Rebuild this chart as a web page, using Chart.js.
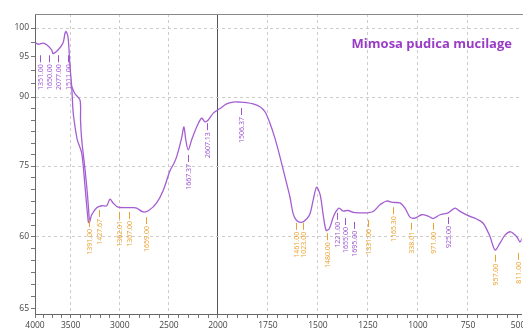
<!DOCTYPE html>
<html lang="en">
<head>
<meta charset="UTF-8">
<title>Mimosa pudica mucilage FTIR</title>
<script src="https://cdn.jsdelivr.net/npm/chart.js"></script>
<style>
  html, body { margin: 0; padding: 0; background: #fff; }
  #wrap { width: 523px; height: 335px; }
</style>
</head>
<body>
<div id="wrap"><canvas id="ftir"></canvas></div>
<script>
// spectrum: wavenumber (cm-1) and transmittance
const wavenumbers = [4000, 3954, 3884, 3836, 3766, 3748, 3678, 3608, 3580, 3566, 3538, 3510, 3490,
  3477, 3466, 3433, 3388, 3354, 3321, 3310, 3286, 3235, 3184, 3134, 3100, 3069, 3018, 2930, 2866,
  2828, 2764, 2705, 2625, 2557, 2489, 2448, 2418, 2370, 2347, 2328, 2303, 2268, 2217, 2166, 2133,
  2099, 2048, 1990, 1957, 1924, 1890, 1857, 1824, 1790, 1765, 1740, 1715, 1690, 1665, 1640, 1624,
  1607, 1582, 1557, 1540, 1524, 1507, 1489, 1473, 1459, 1443, 1420, 1395, 1375, 1350, 1324, 1290,
  1257, 1224, 1190, 1157, 1124, 1090, 1065, 1040, 1015, 982, 949, 924, 890, 849, 815, 790, 749,
  707, 674, 640, 615, 590, 565, 537, 507, 490, 478];
const transmittance = [97.5, 97.2, 97.4, 97.1, 96.2, 95.6, 96.2, 97.4, 99.1, 99.4, 98.5, 93.8, 91.3,
  87.2, 85.0, 80.7, 77.8, 70.6, 63.2, 63.0, 64.7, 66.2, 66.6, 66.6, 68.0, 67.2, 66.3, 66.2, 66.2,
  66.1, 65.3, 65.6, 67.2, 69.9, 74.0, 75.6, 77.2, 81.1, 83.5, 80.7, 78.5, 80.7, 83.5, 85.4, 84.6,
  85.0, 86.5, 87.5, 88.5, 88.9, 88.9, 88.8, 88.5, 87.9, 86.8, 84.3, 81.0, 77.0, 72.7, 68.4, 64.9,
  63.5, 63.1, 63.8, 64.9, 67.8, 70.5, 68.9, 64.4, 61.4, 61.8, 64.6, 66.1, 65.5, 65.6, 65.2, 65.1,
  65.1, 65.4, 66.8, 67.6, 67.3, 67.2, 66.1, 64.2, 64.0, 64.7, 64.4, 63.9, 64.7, 65.1, 66.1, 65.4, 64.5,
  63.8, 62.9, 60.1, 57.3, 58.7, 60.4, 61.1, 60.1, 59.0, 59.8];

// second stroke of the O-H band (the curve is drawn twice there)
const bandWavenumbers = [3490, 3456, 3405, 3400, 3388, 3354, 3331, 3313, 3310];
const bandTransmittance = [91.3, 90.4, 89.3, 85.0, 80.7, 74.2, 69.3, 64.3, 63.0];

// axis ticks
const xMajorTicks = [4000, 3500, 3000, 2500, 2000, 1750, 1500, 1250, 1000, 750, 500];
const yTickValues = [100, 95, 90, 75, 60, 45];
const yTickLabels = ['100', '95', '90', '75', '60', '65'];
const yMinorTicks = [97.5, 93.33, 91.67, 87.5, 85, 82.5, 80, 77.5, 72.5, 70, 67.5, 65, 62.5,
  57.5, 55, 52.5, 50, 47.5];

// peak labels: wavenumber, level where the leader starts, text, colour
const peakWavenumbers = [3930, 3804, 3678, 3538, 3310, 3211, 3008, 2906, 2736, 2303, 2116, 1885,
  1610, 1573, 1456, 1403, 1365, 1318, 1248, 1126, 1035, 926, 848, 615, 498];
const peakLevels = [95.3, 95.3, 95.3, 95.3, 63.6, 65.7, 65.3, 65.3, 64.2, 77.4, 84.3, 87.6,
  63.0, 63.0, 60.8, 65.1, 64.0, 63.2, 63.6, 66.3, 63.0, 63.0, 64.2, 56.3, 56.7];
const peakTexts = ['1351.00', '1650.00', '2077.00', '1511.00', '1391.00', '1427.67', '1362.01',
  '1307.00', '1659.00', '1667.37', '2607.13', '1506.37', '1461.00', '1023.00', '1480.00',
  '1221.00', '1655.00', '1695.00', '1331.00', '1165.30', '338.01', '971.00', '925.00', '957.00',
  '811.00'];
const peakColours = ['p', 'p', 'p', 'p', 'o', 'o', 'o', 'o', 'o', 'p', 'p', 'p', 'o', 'o', 'o',
  'p', 'p', 'p', 'o', 'o', 'o', 'o', 'p', 'o', 'o'];

const PURPLE = '#a45ed2';
const LABEL_PURPLE = '#9c55cf';
const ORANGE = '#eba12f';

// scale with piecewise linear sections (x is compressed above 2000, y labels are uneven)
class BrokenScale extends Chart.Scale {
  determineDataLimits() {
    const vals = this.options.stops.map(s => s[0]);
    this.min = Math.min(...vals);
    this.max = Math.max(...vals);
  }
  buildTicks() {
    return this.options.tickValues.map(v => ({ value: v }));
  }
  getLabelForValue(v) { return String(v); }
  toDecimal(v) {
    const s = this.options.stops;
    const dir = Math.sign(s[1][0] - s[0][0]);
    let i = 0;
    while (i < s.length - 2 && (v - s[i + 1][0]) * dir > 0) i++;
    const a = s[i], b = s[i + 1];
    return a[1] + (v - a[0]) / (b[0] - a[0]) * (b[1] - a[1]);
  }
  getPixelForValue(v) { return this.getPixelForDecimal(this.toDecimal(v)); }
  getValueForPixel(px) {
    const d = this.getDecimalForPixel(px);
    const s = this.options.stops;
    let i = 0;
    while (i < s.length - 2 && d > s[i + 1][1]) i++;
    const a = s[i], b = s[i + 1];
    return a[0] + (d - a[1]) / (b[1] - a[1]) * (b[0] - a[0]);
  }
}
BrokenScale.id = 'broken';
BrokenScale.defaults = {};
Chart.register(BrokenScale);

// minor x ticks
const xMinorTicks = [];
for (let w = 3875; w > 3500; w -= 125) xMinorTicks.push(w);
for (let w = 3400; w > 2000; w -= 100) if (w % 500) xMinorTicks.push(w);
for (let w = 1950; w > 500; w -= 50) if (w % 250) xMinorTicks.push(w);

const isXMajor = v => xMajorTicks.includes(v);
const xGridColour = ctx => {
  const v = ctx.tick && ctx.tick.value;
  if (v === 2000) return '#555';
  if (!isXMajor(v) || v === 4000 || v === 500) return 'rgba(0,0,0,0)';
  return '#cccccc';
};
const yGridColour = ctx => {
  const v = ctx.tick && ctx.tick.value;
  return [100, 90, 75, 60].includes(v) ? '#cccccc' : 'rgba(0,0,0,0)';
};

const extras = {
  id: 'extras',
  afterDatasetsDraw(chart) {
    const { ctx, chartArea: a, scales: { x, y } } = chart;
    ctx.save();
    // frame top line
    ctx.strokeStyle = '#888';
    ctx.lineWidth = 1;
    ctx.beginPath();
    ctx.moveTo(a.left, a.top + 0.5);
    ctx.lineTo(chart.width, a.top + 0.5);
    ctx.stroke();

    // peak labels
    ctx.font = '7px "Open Sans"';
    for (let i = 0; i < peakWavenumbers.length; i++) {
      const col = peakColours[i] === 'p' ? LABEL_PURPLE : ORANGE;
      const px = Math.round(x.getPixelForValue(peakWavenumbers[i])) + 0.5;
      const py = y.getPixelForValue(peakLevels[i]);
      ctx.strokeStyle = col;
      ctx.fillStyle = col;
      ctx.beginPath();
      ctx.moveTo(px, py);
      ctx.lineTo(px, py + 7);
      ctx.stroke();
      ctx.save();
      ctx.translate(px, py + 9);
      ctx.rotate(-Math.PI / 2);
      ctx.textAlign = 'right';
      ctx.textBaseline = 'middle';
      ctx.fillText(peakTexts[i], 0, 0);
      ctx.restore();
    }

    // sample name
    ctx.font = 'bold 13px "Open Sans"';
    ctx.fillStyle = '#9a3dc6';
    ctx.textAlign = 'right';
    ctx.textBaseline = 'middle';
    ctx.fillText('Mimosa pudica mucilage', 512, 44);
    ctx.restore();
  }
};

new Chart(document.getElementById('ftir'), {
  type: 'line',
  data: {
    datasets: [{
      data: wavenumbers.map((w, i) => ({ x: w, y: transmittance[i] })),
      borderColor: PURPLE,
      borderWidth: 1.3,
      pointRadius: 0,
      tension: 0.3,
      fill: false
    }, {
      data: bandWavenumbers.map((w, i) => ({ x: w, y: bandTransmittance[i] })),
      borderColor: PURPLE,
      borderWidth: 1.3,
      pointRadius: 0,
      tension: 0.3,
      fill: false
    }]
  },
  options: {
    responsive: true,
    maintainAspectRatio: false,
    animation: false,
    events: [],
    layout: { padding: { top: 14, right: 2, left: 0, bottom: 0 } },
    plugins: { legend: { display: false }, tooltip: { enabled: false } },
    scales: {
      x: {
        type: 'broken',
        position: 'bottom',
        stops: [[4000, 0], [3500, 0.0735], [2000, 0.3765], [500, 0.9938]],
        tickValues: xMajorTicks.concat(xMinorTicks),
        afterFit: s => { s.height = 21; },
        grid: { color: xGridColour, tickColor: '#777', tickLength: 4, lineWidth: 1 },
        border: { color: '#666', dash: ctx => (ctx.tick && ctx.tick.value === 2000) ? [] : [3, 3] },
        ticks: {
          autoSkip: false,
          maxRotation: 0,
          padding: 2,
          color: '#444',
          font: { family: '"Open Sans"', size: 8.5 },
          callback: v => isXMajor(v) ? String(v) : ''
        }
      },
      y: {
        type: 'broken',
        position: 'left',
        stops: [[45, 0.0167], [60, 0.2567], [75, 0.4933], [90, 0.7233], [95, 0.8567], [100, 0.9533]],
        tickValues: yTickValues.concat(yMinorTicks),
        afterFit: s => { s.width = 35; },
        grid: { color: yGridColour, tickColor: '#777', tickLength: 4, lineWidth: 1 },
        border: { color: '#666', dash: [3, 3] },
        ticks: {
          autoSkip: false,
          padding: 2,
          color: '#444',
          font: { family: '"Open Sans"', size: 8.5 },
          callback: v => {
            const i = yTickValues.indexOf(v);
            return i >= 0 ? yTickLabels[i] : '';
          }
        }
      }
    }
  },
  plugins: [extras]
});
</script>
</body>
</html>
